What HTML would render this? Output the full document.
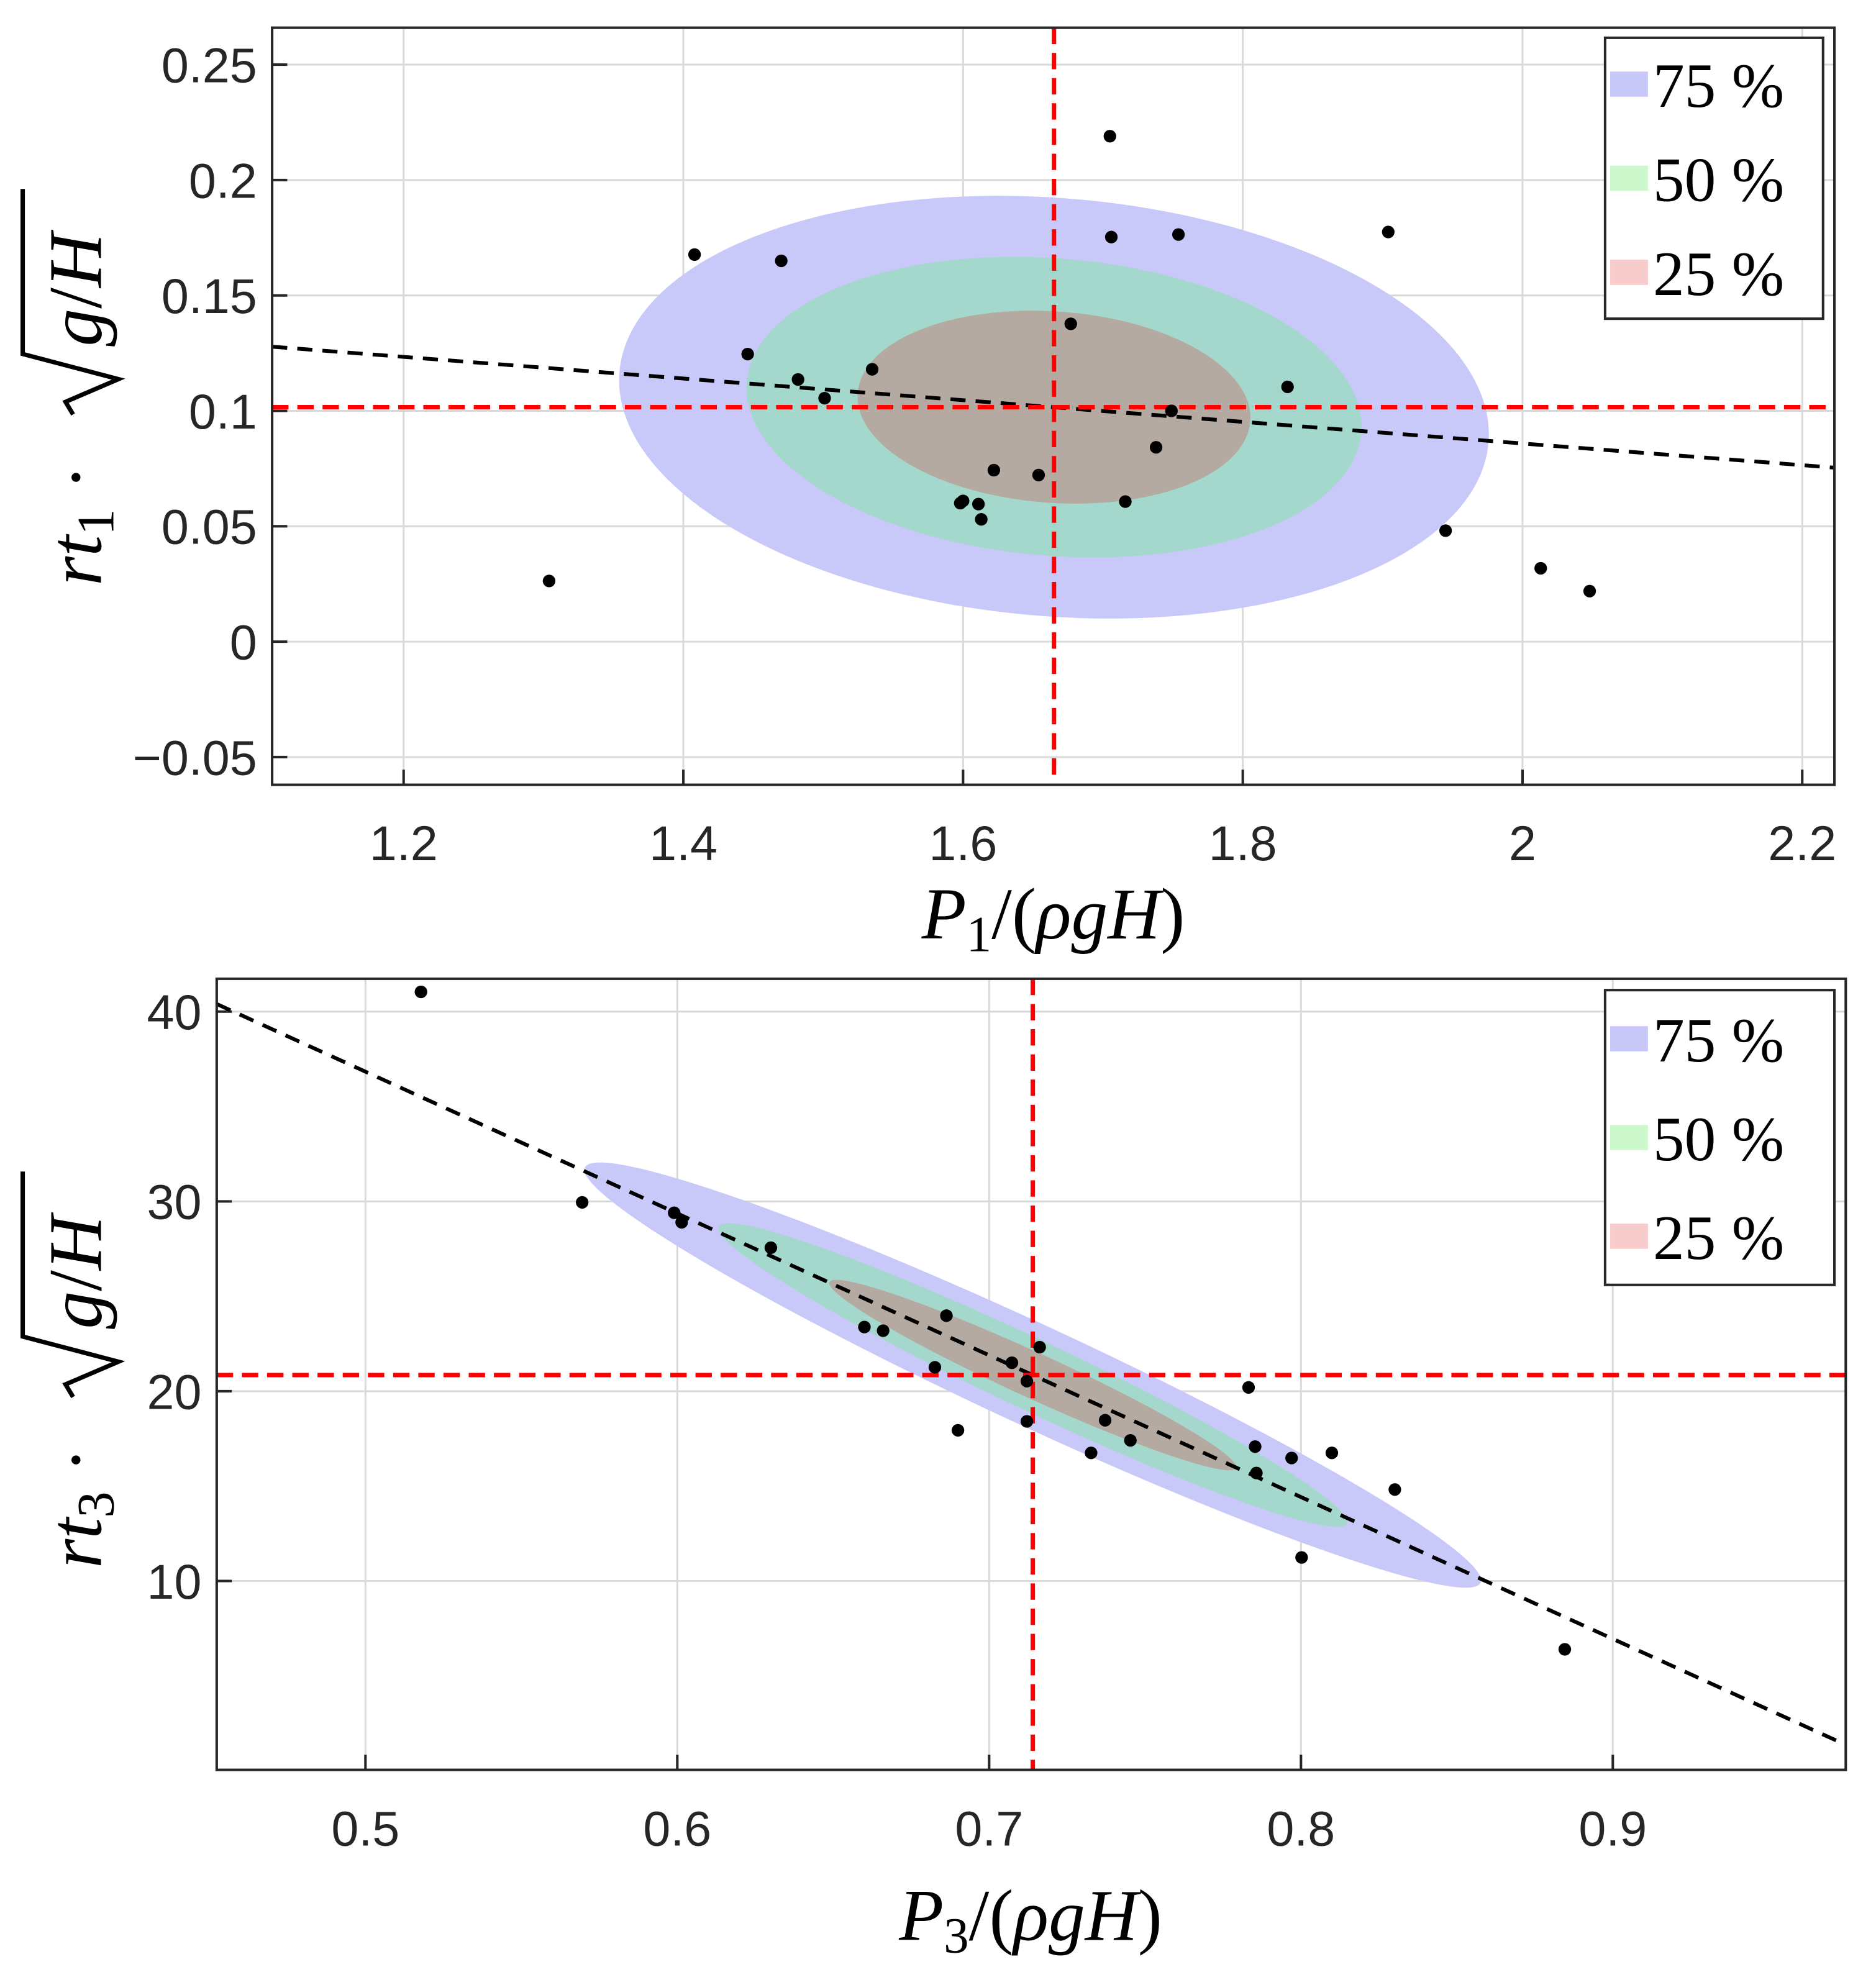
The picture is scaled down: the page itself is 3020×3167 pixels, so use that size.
<!DOCTYPE html>
<html><head><meta charset="utf-8"><style>
html,body{margin:0;padding:0;background:#fff}
svg{display:block}
.tk{font-family:"Liberation Sans",sans-serif;font-size:39px;fill:#262626}
.lb{font-family:"Liberation Serif",serif;font-style:italic;fill:#000}
.lg{font-family:"Liberation Serif",serif;font-size:50px;fill:#000}
</style></head><body>
<svg id="fig" xmlns="http://www.w3.org/2000/svg" width="3020" height="3167" viewBox="0 0 1489 1561.5">
<rect width="1489" height="1561.5" fill="#fff"/>
</svg>
<script>
// ---------- top chart data ----------
const topXTicks=[1.2,1.4,1.6,1.8,2,2.2];
const topXTickLabels=["1.2","1.4","1.6","1.8","2","2.2"];
const topYTicks=[-0.05,0,0.05,0.1,0.15,0.2,0.25];
const topYTickLabels=["\u22120.05","0","0.05","0.1","0.15","0.2","0.25"];
const topPx=[1.304,1.408,1.470,1.446,1.482,1.501,1.535,1.598,1.600,1.611,1.613,1.622,1.654,1.677,1.705,1.706,1.716,1.738,1.749,1.754,1.832,1.904,1.945,2.013,2.048];
const topPy=[0.0263,0.1677,0.165,0.1246,0.1136,0.1055,0.118,0.060,0.061,0.0596,0.053,0.0743,0.0722,0.1377,0.219,0.1753,0.0607,0.0842,0.100,0.1764,0.1104,0.1775,0.0481,0.0318,0.0219];
const topMean=[1.665,0.1016];
const topFitX=[1.106,2.223];
const topFitY=[0.1278,0.0754];
const topEllEndX=[1.9757,1.8847,1.8054];
const topEllEndY=[0.0864,0.0907,0.0956];
const topEllMinor=[166,118,76];
// ---------- bottom chart data ----------
const botXTicks=[0.5,0.6,0.7,0.8,0.9];
const botXTickLabels=["0.5","0.6","0.7","0.8","0.9"];
const botYTicks=[10,20,30,40];
const botYTickLabels=["10","20","30","40"];
const botPx=[0.5178,0.5695,0.599,0.6014,0.630,0.66,0.666,0.6826,0.6863,0.690,0.7073,0.7121,0.7121,0.7162,0.7327,0.7372,0.7453,0.7832,0.7853,0.7857,0.797,0.8099,0.8002,0.8301,0.8846];
const botPy=[41.04,29.95,29.4,28.9,27.56,23.38,23.19,21.26,23.98,17.94,21.5,18.41,20.53,22.32,16.75,18.47,17.41,20.2,17.08,15.69,16.48,16.75,11.24,14.82,6.4];
const botMean=[0.714,20.85];
const botFitX=[0.4523,0.9747];
const botFitY=[40.4,1.37];
const botEllEndX=[0.8576,0.8147,0.7792];
const botEllEndY=[9.91,13.03,15.95];
const botEllMinor=[40,28,18];

const legendLabels=["75 %","50 %","25 %"];
const ellColors=["#c9c9f9","#a5d8cc","#b4aaa2"];
const swColors=["#c8c8f8","#ccf8cc","#f8cccc"];

const NS="http://www.w3.org/2000/svg";
const svg=document.getElementById('fig');
function mk(tag,attrs,parent){const e=document.createElementNS(NS,tag);for(const k in attrs)e.setAttribute(k,attrs[k]);(parent||svg).appendChild(e);return e;}

function chart(o){
  const g=mk('g',{});
  
  
  const X=v=>o.L+(v-o.xmin)/(o.xmax-o.xmin)*(o.R-o.L);
  const Y=v=>o.B-(v-o.ymin)/(o.ymax-o.ymin)*(o.B-o.T);
  o.xt.forEach((t,i)=>{
    const l=mk('line',{x1:X(t),x2:X(t),y1:o.T,y2:o.B,stroke:'#dadada','stroke-width':1.5},g);
    
    
    const tk=mk('line',{x1:X(t),x2:X(t),y1:o.B,y2:o.B-12,stroke:'#262626','stroke-width':2},g);
    
    
    const tt=mk('text',{x:X(t),y:o.B+60,'text-anchor':'middle',class:'tk'},g);
    tt.textContent=o.xtl[i];
    
    
  });
  o.yt.forEach((t,i)=>{
    const l=mk('line',{x1:o.L,x2:o.R,y1:Y(t),y2:Y(t),stroke:'#dadada','stroke-width':1.5},g);
    
    
    const tk=mk('line',{x1:o.L,x2:o.L+12,y1:Y(t),y2:Y(t),stroke:'#262626','stroke-width':2},g);
    
    
    const tt=mk('text',{x:o.L-12,y:Y(t)+14,'text-anchor':'end',class:'tk'},g);
    tt.textContent=o.ytl[i];
    
    
  });
  const cx=X(o.mean[0]),cy=Y(o.mean[1]);
  o.ex.forEach((ex,i)=>{
    const dx=X(ex)-cx,dy=Y(o.ey[i])-cy;
    const a=Math.hypot(dx,dy),ang=Math.atan2(dy,dx)*180/Math.PI;
    const e=mk('ellipse',{cx:cx,cy:cy,rx:a,ry:o.em[i],fill:ellColors[i],transform:`rotate(${ang} ${cx} ${cy})`},g);
    
    
  });
  const f=mk('line',{x1:X(o.fx[0]),y1:Y(o.fy[0]),x2:X(o.fx[1]),y2:Y(o.fy[1]),stroke:'#000','stroke-width':3,'stroke-dasharray':'12 8'},g);
  
  
  const rv=mk('line',{x1:cx,x2:cx,y1:o.T,y2:o.B,stroke:'#f00','stroke-width':3.5,'stroke-dasharray':'13 7'},g);
  
  
  const rh=mk('line',{x1:o.L,x2:o.R,y1:cy,y2:cy,stroke:'#f00','stroke-width':3.5,'stroke-dasharray':'13 7'},g);
  
  
  o.px.forEach((v,i)=>{
    const c=mk('circle',{cx:X(v),cy:Y(o.py[i]),r:5,fill:'#000'},g);
    
    
  });
  const fr=mk('rect',{x:o.L,y:o.T,width:o.R-o.L,height:o.B-o.T,fill:'none',stroke:'#262626','stroke-width':2},g);
  
  
  const lg=mk('g',{},g);
  
  
  mk('rect',{x:o.lg.x,y:o.lg.y,width:o.lg.w,height:o.lg.h,fill:'#fff',stroke:'#262626','stroke-width':2},lg);
  legendLabels.forEach((t,i)=>{
    const yy=o.lg.y+o.lg.h*(0.165+0.335*i);
    const s=mk('rect',{x:o.lg.x+4,y:yy-10,width:30,height:20,fill:swColors[i]},lg);
    
    
    const tx=mk('text',{x:o.lg.x+38,y:yy+18,class:'lg','font-size':o.lg.fs},lg);
    tx.textContent=t;
    
    
  });
  const xl=mk('text',{x:o.xlab[0],y:o.xlab[1],'text-anchor':'middle',class:'lb','font-size':58},g);
  xl.innerHTML=`P<tspan font-style="normal" font-size="40" dy="10">${o.sub}</tspan><tspan font-style="normal" dy="-10">/(</tspan>ρgH<tspan font-style="normal">)</tspan>`;
  
  
  const yl=mk('g',{transform:`translate(${o.ylab[0]},${o.ylab[1]}) rotate(-90)`},g);
  
  
  const yt=mk('text',{x:-150,y:0,class:'lb','font-size':60},yl);
  yt.innerHTML=`rt<tspan font-style="normal" font-size="42" dy="10">${o.sub}</tspan><tspan font-style="normal" dy="-10"> · </tspan>`;
  mk('path',{d:'M-14,-22 L-4,-28 L14,14 L34,-62 L165,-62',fill:'none',stroke:'#000','stroke-width':3.5,'stroke-linejoin':'miter'},yl);
  const gh=mk('text',{x:40,y:0,class:'lb','font-size':60},yl);
  gh.innerHTML='g<tspan font-style="normal">/</tspan>H';
}

chart({name:'top-chart',L:216,R:1456,T:22,B:623,xmin:1.106,xmax:2.223,ymin:-0.062,ymax:0.266,
  xt:topXTicks,xtl:topXTickLabels,yt:topYTicks,ytl:topYTickLabels,px:topPx,py:topPy,mean:topMean,
  fx:topFitX,fy:topFitY,ex:topEllEndX,ey:topEllEndY,em:topEllMinor,
  lg:{x:1274,y:30,w:173,h:223,fs:52},xlab:[836,745],ylab:[80,315],sub:'1'});
chart({name:'bottom-chart',L:172,R:1465,T:777,B:1405,xmin:0.4523,xmax:0.9747,ymin:0.05,ymax:41.73,
  xt:botXTicks,xtl:botXTickLabels,yt:botYTicks,ytl:botYTickLabels,px:botPx,py:botPy,mean:botMean,
  fx:botFitX,fy:botFitY,ex:botEllEndX,ey:botEllEndY,em:botEllMinor,
  lg:{x:1274,y:786,w:182,h:234,fs:54},xlab:[818,1540],ylab:[80,1095],sub:'3'});
</script>
</body></html>
